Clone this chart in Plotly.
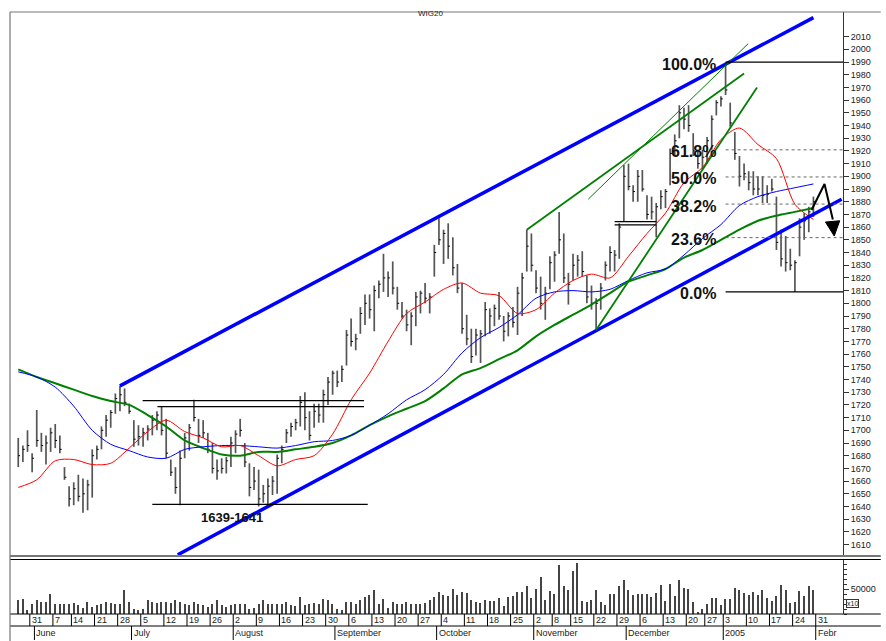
import pandas as pd
import plotly.graph_objects as go

# ---------------- data ----------------
HOLIDAYS = ['2004-06-10', '2004-11-01', '2004-11-11', '2004-12-24', '2004-12-31']
DATES = [d for d in pd.bdate_range('2004-05-26', '2005-01-28')
         if d.strftime('%Y-%m-%d') not in HOLIDAYS]

HIGH = [1694,1688,1700,1682,1716,1698,1696,1702,1705,1696,
        1671,1656,1659,1665,1662,1661,1685,1688,1703,1712,
        1716,1729,1735,1733,1721,1708,1704,1702,1704,1712,
        1715,1719,1709,1677,1671,1684,1698,1705,1724,1709,
        1708,1698,1690,1677,1678,1679,1695,1700,1709,1690,
        1674,1671,1669,1657,1662,1664,1681,1688,1701,1706,
        1709,1727,1730,1715,1721,1721,1732,1742,1747,1747,
        1751,1779,1788,1776,1797,1807,1807,1814,1818,1839,
        1825,1833,1813,1801,1795,1793,1809,1810,1816,1808,
        1846,1867,1858,1863,1852,1831,1816,1791,1780,1780,
        1779,1801,1796,1799,1809,1790,1793,1797,1813,1824,
        1858,1855,1826,1821,1813,1837,1841,1872,1855,1824,
        1839,1838,1841,1822,1814,1804,1816,1833,1845,1842,
        1863,1909,1910,1893,1905,1905,1885,1884,1879,1889,
        1890,1922,1933,1956,1954,1956,1934,1921,1921,1931,
        1948,1960,1963,1989,1958,1935,1916,1910,1904,1904,
        1900,1900,1893,1898,1884,1858,1853,1843,1834,1867,
        1871,1876,1884]

LOW = [1671,1675,1683,1667,1687,1683,1673,1683,1686,1682,
       1661,1640,1641,1644,1635,1637,1647,1677,1685,1695,
       1702,1713,1715,1719,1713,1687,1688,1687,1692,1696,
       1700,1696,1678,1664,1650,1641,1678,1684,1707,1690,
       1694,1682,1666,1661,1666,1666,1671,1682,1695,1671,
       1648,1653,1640,1643,1641,1649,1650,1674,1690,1695,
       1700,1703,1700,1692,1702,1706,1706,1720,1728,1734,
       1738,1751,1766,1763,1776,1783,1788,1778,1804,1809,
       1805,1807,1795,1788,1778,1767,1782,1792,1800,1792,
       1821,1846,1831,1835,1822,1808,1776,1767,1753,1759,
       1753,1774,1776,1782,1787,1770,1774,1781,1775,1790,
       1825,1825,1808,1795,1787,1811,1817,1839,1816,1799,
       1818,1821,1821,1800,1795,1779,1795,1818,1825,1825,
       1835,1864,1889,1880,1880,1888,1866,1866,1852,1874,
       1875,1893,1916,1930,1937,1935,1916,1906,1905,1910,
       1921,1948,1955,1964,1939,1913,1892,1897,1889,1885,
       1885,1879,1879,1888,1842,1829,1825,1826,1809,1837,
       1850,1856,1868]

CLOSE = [1680,1685,1688,1678,1692,1688,1690,1698,1692,1685,
         1663,1646,1654,1648,1650,1657,1680,1685,1700,1708,
         1714,1725,1728,1722,1715,1693,1695,1698,1701,1708,
         1712,1700,1682,1667,1655,1678,1694,1702,1710,1696,
         1698,1685,1670,1668,1670,1676,1690,1697,1700,1675,
         1655,1660,1646,1650,1656,1660,1678,1685,1698,1703,
         1706,1722,1710,1696,1715,1712,1728,1738,1745,1738,
         1748,1775,1770,1772,1792,1800,1795,1810,1815,1820,
         1820,1812,1800,1790,1783,1790,1805,1808,1804,1805,
         1840,1850,1855,1845,1828,1812,1780,1772,1758,1775,
         1776,1795,1790,1796,1790,1778,1790,1785,1808,1820,
         1845,1830,1812,1800,1808,1832,1838,1850,1820,1815,
         1830,1834,1825,1805,1800,1800,1812,1830,1840,1838,
         1860,1900,1892,1888,1900,1890,1870,1872,1876,1884,
         1888,1918,1928,1950,1945,1940,1920,1910,1915,1928,
         1945,1958,1961,1968,1942,1918,1900,1902,1895,1890,
         1890,1885,1886,1890,1848,1835,1832,1830,1832,1860,
         1865,1872,1880]

VOLUME = [28000,31000,8000,20000,28000,25000,25000,41000,20000,20000,
          21000,20000,23000,18000,13000,25000,15000,18000,21000,25000,
          23000,21000,20000,49000,25000,11000,8000,11000,29000,25000,
          23000,25000,25000,23000,28000,25000,20000,18000,25000,21000,
          18000,15000,21000,29000,18000,15000,18000,21000,21000,21000,
          11000,13000,21000,29000,21000,20000,20000,20000,25000,18000,
          16000,35000,18000,21000,23000,20000,31000,29000,20000,11000,
          9000,25000,25000,21000,29000,35000,38000,49000,21000,31000,
          13000,25000,21000,21000,25000,21000,21000,20000,23000,29000,
          35000,45000,38000,
          36000,51000,38000,45000,43000,29000,25000,23000,28000,27000,
          27000,33000,16000,35000,36000,45000,45000,56000,33000,51000,
          75000,28000,47000,41000,98000,56000,48000,87000,103000,27000,
          25000,29000,49000,25000,18000,41000,40000,56000,68000,48000,
          38000,40000,40000,40000,35000,43000,58000,27000,61000,36000,
          69000,53000,51000,25000,3000,11000,21000,33000,33000,18000,
          31000,31000,53000,49000,43000,38000,45000,38000,49000,33000,
          27000,36000,58000,49000,23000,25000,47000,36000,56000,49000]

# moving averages read at every 4th session
MA_IDX = list(range(0, 173, 4))
MA_RED = [1655,1661,1676,1677,1673,1674,1686,1699,1708,1699,1694,1687,1688,1680,1672,
          1677,1680,1697,1724,1745,1770,1792,1801,1811,1816,1808,1806,1792,1795,1808,
          1818,1823,1820,1837,1855,1871,1895,1907,1929,1938,1925,1914,1878,1866]
MA_BLUE = [1746,1742,1734,1719,1700,1689,1684,1679,1678,1685,1687,1688,1688,1687,1686,
           1688,1691,1692,1696,1704,1713,1724,1732,1744,1761,1773,1781,1791,1804,1809,
           1810,1809,1811,1818,1824,1827,1838,1851,1862,1877,1884,1888,1891,1894]
MA_GREEN = [1748,1742,1737,1732,1727,1723,1720,1712,1703,1692,1686,1681,1680,1683,1683,
            1685,1687,1690,1696,1704,1711,1717,1723,1733,1744,1749,1756,1763,1774,1783,
            1791,1799,1808,1817,1822,1827,1836,1842,1850,1858,1865,1869,1872,1875]

# analyst drawings (session index, price)
CHANNEL_UP = ([22, 172], [1735, 2025])
CHANNEL_LOW = ([34.5, 178.1], [1602, 1882])
GREEN_A = ([110, 157], [1858, 1981])
GREEN_B = ([123.3, 157.9], [1882, 2004.5])
GREEN_C = ([125, 159.8], [1779, 1970])
HLINES = [([26.9, 74.8], 1723.3), ([30.1, 74.8], 1718.6), ([29, 75.6], 1641.7),
          ([129, 138], 1864.3), ([129, 138], 1861.7)]
FIB_HIGH, FIB_LOW = 1990, 1809
FIB_PCTS = [100.0, 61.8, 50.0, 38.2, 23.6, 0.0]
ARROW_PATH = ([171.6, 174.4, 176.2], [1873.5, 1894, 1866])
ARROW_HEAD = ([174.6, 177.7, 176.5, 174.6], [1864, 1865, 1853, 1864])

MONTH_NAMES = {6: 'June', 7: 'July', 8: 'August', 9: 'September', 10: 'October',
               11: 'November', 12: 'December', 1: '2005'}

# ---------------- figure ----------------
N = len(DATES)
XMIN, XMAX = -1.785, 178.4
L_PX, R_PX, T_PX, B_PX, W, H = 10, 848, 12, 614, 886, 641
PH = B_PX - T_PX
def py(px):  # pixel row -> paper y
    return (B_PX - px) / PH
def pxx(px):  # pixel col -> paper x
    return (px - L_PX) / (R_PX - L_PX)

fig = go.Figure()

# volume
fig.add_trace(go.Bar(x=list(range(N)), y=VOLUME, width=0.28, marker_color='#444',
                     marker_line_width=0, yaxis='y2', hoverinfo='skip'))

# price bars (high-low with close tick)
bx, by, tx, ty = [], [], [], []
for i in range(N):
    bx += [i, i, None]; by += [LOW[i], HIGH[i], None]
    tx += [i, i + 0.4, None]; ty += [CLOSE[i], CLOSE[i], None]
fig.add_trace(go.Scatter(x=bx, y=by, mode='lines', line=dict(color='#555', width=1.7), hoverinfo='skip'))
fig.add_trace(go.Scatter(x=tx, y=ty, mode='lines', line=dict(color='#000', width=1), hoverinfo='skip'))

# moving averages
for vals, col, w in [(MA_GREEN, '#008000', 2), (MA_BLUE, '#0000ff', 1), (MA_RED, '#ff0000', 1)]:
    fig.add_trace(go.Scatter(x=MA_IDX, y=vals, mode='lines', line=dict(color=col, width=w, shape='spline', smoothing=0.8),
                             hoverinfo='skip'))

# channels and trend lines
for (xs, ys), col, w in [(CHANNEL_UP, '#0000ff', 3.5), (CHANNEL_LOW, '#0000ff', 3.5),
                         (GREEN_A, '#008000', 1.8), (GREEN_B, '#008000', 1), (GREEN_C, '#008000', 1.8)]:
    fig.add_trace(go.Scatter(x=xs, y=ys, mode='lines', line=dict(color=col, width=w), hoverinfo='skip', cliponaxis=True))

for xs, lvl in HLINES:
    fig.add_trace(go.Scatter(x=xs, y=[lvl, lvl], mode='lines', line=dict(color='#000', width=1.2), hoverinfo='skip'))

# fibonacci
for pct in FIB_PCTS:
    lvl = FIB_LOW + (FIB_HIGH - FIB_LOW) * pct / 100
    solid = pct in (0.0, 100.0)
    fig.add_trace(go.Scatter(x=[153, XMAX], y=[lvl, lvl], mode='lines',
                             line=dict(color='#000' if solid else '#666', width=1.2 if solid else 1,
                                       dash='solid' if solid else 'dot'), hoverinfo='skip'))
    fig.add_annotation(x=151.4, y=lvl, xref='x', yref='y', text='<b>%.1f%%</b>' % pct, showarrow=False,
                       xanchor='right', yanchor='middle', yshift=-2,
                       font=dict(family='Liberation Sans', size=16, color='#111'))

# arrow
fig.add_trace(go.Scatter(x=ARROW_PATH[0], y=ARROW_PATH[1], mode='lines', line=dict(color='#000', width=2),
                         hoverinfo='skip'))
fig.add_trace(go.Scatter(x=ARROW_HEAD[0], y=ARROW_HEAD[1], mode='lines', fill='toself', fillcolor='#000',
                         line=dict(color='#000', width=1), hoverinfo='skip'))

fig.add_annotation(x=46.2, y=1631, xref='x', yref='y', text='<b>1639-1641</b>', showarrow=False,
                   font=dict(family='Liberation Sans', size=13, color='#111'))
fig.add_annotation(x=pxx(433), y=py(7), xref='paper', yref='paper', text='WIG20', showarrow=False,
                   font=dict(family='Liberation Sans', size=8, color='#222'))

# frame / separators
shapes = []
def hline(px, color='#000', width=1):
    shapes.append(dict(type='line', xref='paper', yref='paper', x0=0, x1=pxx(W), y0=py(px), y1=py(px),
                       line=dict(color=color, width=width)))
hline(12, '#777', 1.2)
hline(556, '#777', 2)
hline(559.5, '#000', 1)
hline(614, '#000', 1)
hline(626, '#000', 1)
shapes.append(dict(type='line', xref='paper', yref='paper', x0=0, x1=0, y0=py(H), y1=py(12),
                   line=dict(color='#777', width=1.2)))

# date axis
prev_wk, prev_m = None, None
week_ticks, month_ticks = [], []
for i, d in enumerate(DATES):
    wk = d.isocalendar()[1]
    if wk != prev_wk:
        if i > 0:
            week_ticks.append((i - 0.5, str(d.day)))
        prev_wk = wk
    if d.month != prev_m:
        if i > 0:
            month_ticks.append((i - 0.5, MONTH_NAMES[d.month]))
        prev_m = d.month
week_ticks.append((N - 0.5, '31'))
month_ticks.append((N - 0.5, 'Febr'))

for xv, lab in week_ticks:
    shapes.append(dict(type='line', xref='x', yref='paper', x0=xv, x1=xv, y0=py(614), y1=py(626),
                       line=dict(color='#000', width=1)))
    fig.add_annotation(x=xv, y=py(620), xref='x', yref='paper', text=lab, showarrow=False, xanchor='left',
                       yanchor='middle', xshift=0, font=dict(family='Liberation Sans', size=9, color='#222'))
for xv, lab in month_ticks:
    shapes.append(dict(type='line', xref='x', yref='paper', x0=xv, x1=xv, y0=py(626), y1=py(640),
                       line=dict(color='#000', width=1)))
    fig.add_annotation(x=xv, y=py(633), xref='x', yref='paper', text=lab, showarrow=False, xanchor='left',
                       yanchor='middle', xshift=0, font=dict(family='Liberation Sans', size=9, color='#222'))

fig.add_annotation(x=pxx(864), y=py(608), xref='paper', yref='paper', text='x10', showarrow=False,
                   font=dict(family='Liberation Sans', size=7, color='#222'), bordercolor='#333', borderwidth=1,
                   borderpad=0)

fig.update_layout(
    width=W, height=H, margin=dict(l=L_PX, r=W - R_PX, t=T_PX, b=H - B_PX),
    paper_bgcolor='white', plot_bgcolor='white', showlegend=False, shapes=shapes, bargap=0,
    xaxis=dict(range=[XMIN, XMAX], showticklabels=False, showgrid=False, zeroline=False, ticks='',
               showline=False, anchor='y2'),
    yaxis=dict(domain=[py(555), 1], range=[1601.8, 2029.4], side='right', anchor='x',
               tickvals=list(range(1610, 2011, 10)), ticks='outside', ticklen=5, tickcolor='#333',
               showline=True, linecolor='#333', linewidth=1, showgrid=False, zeroline=False,
               tickfont=dict(family='Liberation Sans', size=9, color='#222')),
    yaxis2=dict(domain=[0, py(560)], range=[0, 108000], side='right', anchor='x',
                tickvals=[50000], ticktext=['50000'], ticks='outside', ticklen=5, tickcolor='#333',
                minor=dict(dtick=10000, ticks='outside', ticklen=3, tickcolor='#333'),
                showline=True, linecolor='#333', linewidth=1, showgrid=False, zeroline=False,
                tickfont=dict(family='Liberation Sans', size=9, color='#222')),
)

fig.write_html('out.html', config={'displayModeBar': False},
               post_script="document.body.style.margin='0';document.body.style.padding='0';"
                           "document.documentElement.style.overflow='hidden';")
